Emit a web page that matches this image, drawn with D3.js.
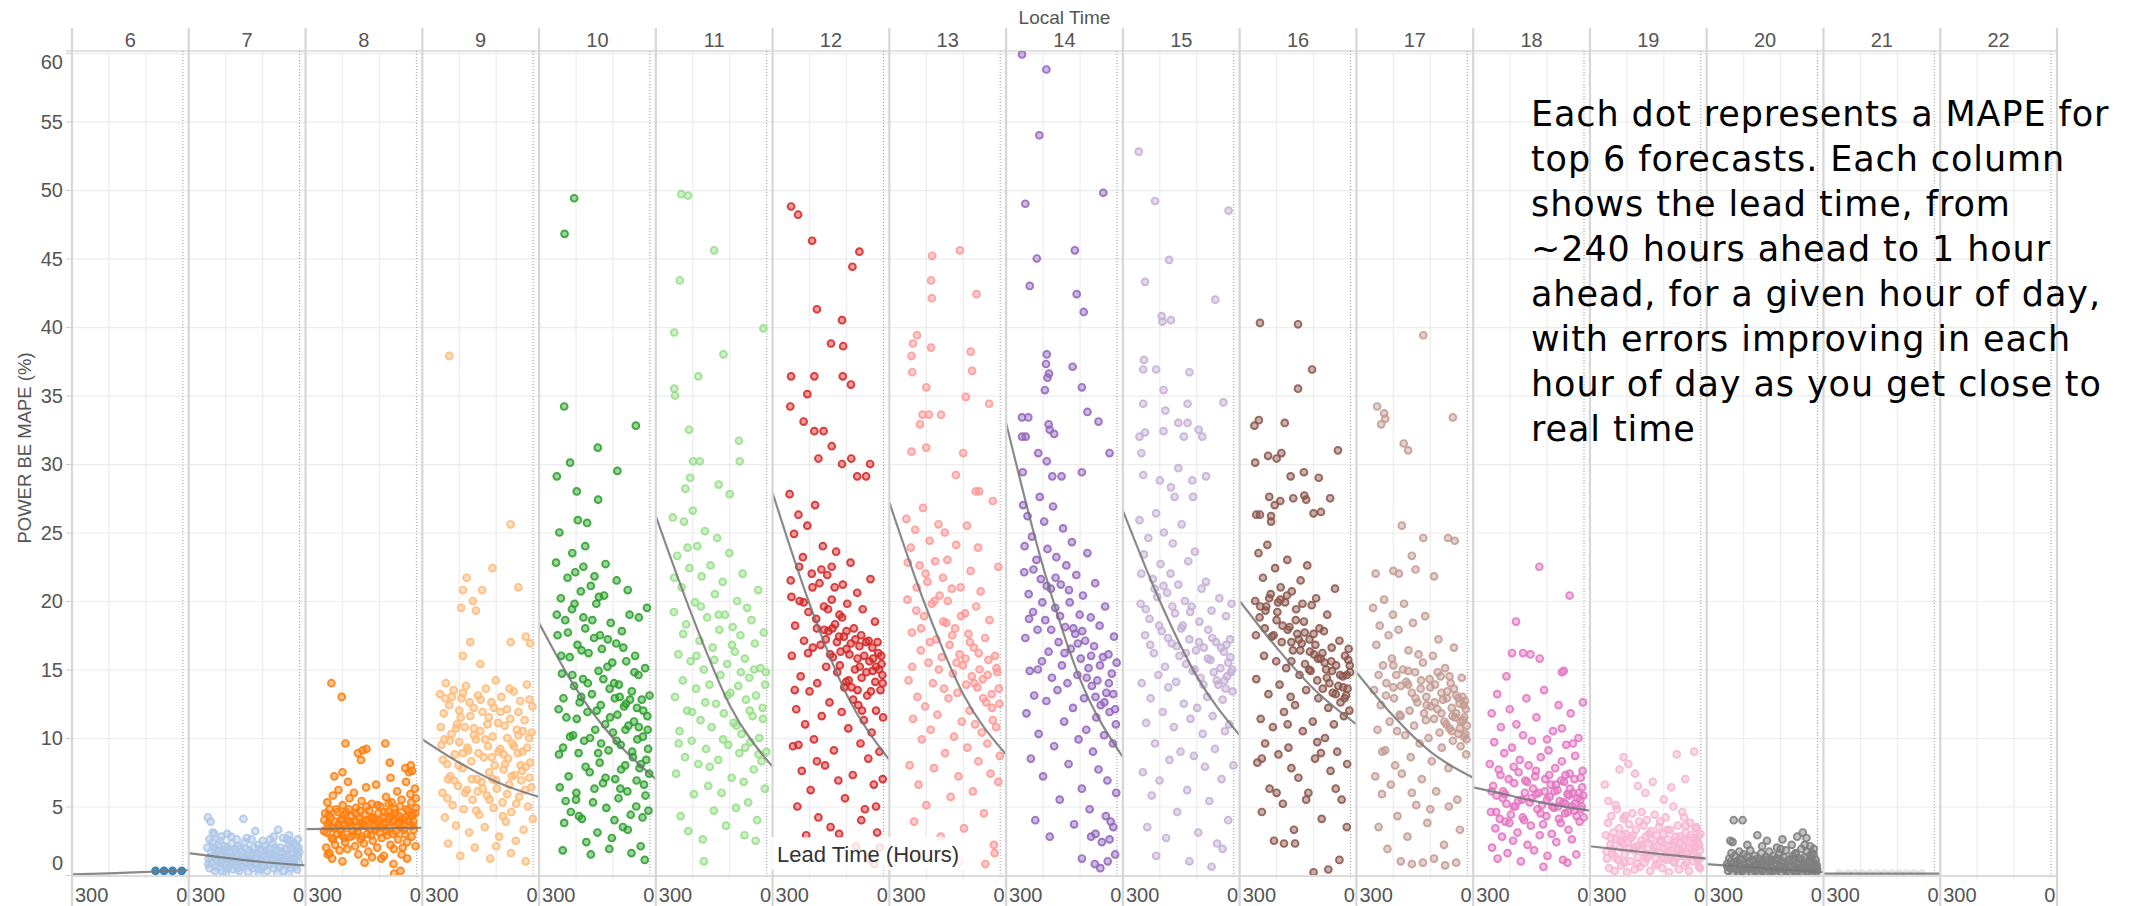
<!DOCTYPE html>
<html>
<head>
<meta charset="utf-8">
<script src="https://cdn.jsdelivr.net/npm/d3@7"></script>
<style>
  body { margin: 0; background: #fff; }
  svg { display: block; font-family: "Liberation Sans", Arial, sans-serif; }
</style>
</head>
<body>
<div id="chart"></div>
<script>
// hour-of-day columns and their Tableau 20 colours
var hours = [6, 7, 8, 9, 10, 11, 12, 13, 14, 15, 16, 17, 18, 19, 20, 21, 22];
var hourColors = ["#1f77b4", "#aec7e8", "#ff7f0e", "#ffbb78", "#2ca02c", "#98df8a", "#d62728", "#ff9896",
                  "#9467bd", "#c5b0d5", "#8c564b", "#c49c94", "#e377c2", "#f7b6d2", "#7f7f7f", "#c7c7c7", "#bcbd22"];
var yTicks = [0, 5, 10, 15, 20, 25, 30, 35, 40, 45, 50, 55, 60];
var xGrid = [200, 100];
var xTickLabels = [300, 0];

// trend line read at lead 300, 200, 100 and the right edge of each pane
var trendLeads = [300, 200, 100, -16];
var trend6 = [0.05, 0.12, 0.22, 0.35];
var trend7 = [1.6, 1.25, 0.95, 0.7];
var trend8 = [3.35, 3.38, 3.41, 3.45];
var trend9 = [9.9, 8.2, 6.8, 5.7];
var trend10 = [18.4, 13.6, 10.0, 7.0];
var trend11 = [26.2, 18.8, 12.4, 7.9];
var trend12 = [27.9, 19.8, 13.2, 8.4];
var trend13 = [27.2, 19.5, 13.2, 8.8];
var trend14 = [33.0, 22.5, 14.3, 8.6];
var trend15 = [26.6, 20.0, 14.5, 10.2];
var trend16 = [20.0, 16.6, 13.6, 11.0];
var trend17 = [14.8, 11.6, 9.0, 7.1];
var trend18 = [6.4, 5.8, 5.2, 4.7];
var trend19 = [2.1, 1.8, 1.5, 1.2];
var trend20 = [0.8, 0.6, 0.4, 0.2];
var trend21 = [0.1, 0.1, 0.1, 0.1];
var trend22 = null;

// [lead time (hours), MAPE %] per hour of day
var mape6 = [[74,0.3],[51,0.3],[28,0.3],[3,0.3]];
var mape7 = [[248,4.2],[241,3.9],[152,4.1],[58,3.3],[28,2.9],[235,3.1],[231,3.0],[196,3.0],[212,2.8],[185,2.8],[120,3.2],[130,2.6],[70,2.8],[35,2.6],[25,2.5],
  [250,2.0],[246,1.2],[244,0.5],[240,1.7],[238,0.9],[236,2.4],[232,1.4],[229,0.3],[226,1.9],[223,1.0],[220,2.2],[217,0.6],[214,1.5],[211,1.1],[208,0.2],[205,1.8],[202,0.8],[199,1.3],[196,2.0],[193,0.5],[190,1.6],[187,1.0],[184,2.3],[181,0.4],[178,1.2],[175,1.9],[172,0.7],[169,1.4],[166,2.1],[163,0.3],[160,1.1],[157,1.7],[154,0.6],[151,1.3],[148,2.4],[145,0.9],[142,1.5],[139,0.2],[136,1.8],[133,1.0],[130,1.4],[127,0.5],[124,2.0],[121,1.2],[118,0.7],[115,1.6],[112,2.2],[109,0.4],[106,1.0],[103,1.8],[100,1.3],[97,0.6],[94,2.1],[91,1.1],[88,0.3],[85,1.5],[82,1.9],[79,0.8],[76,1.2],[73,2.3],[70,0.5],[67,1.4],[64,1.0],[61,1.8],[58,0.6],[55,1.2],[52,2.0],[49,0.9],[46,1.5],[43,0.3],[40,1.1],[37,1.9],[34,0.7],[31,1.3],[28,2.2],[25,0.5],[22,1.0],[19,1.6],[16,0.8],[13,1.2],[10,2.1],[7,0.4],[4,1.4],[2,0.9],[1,1.7],
  [244,2.6],[215,2.5],[170,2.6],[143,2.7],[100,2.5],[80,2.6],[45,2.7],[15,2.3],[5,2.6],[60,0.1],[110,0.1],[200,0.1],[30,0.1],
  [247,0.8],[239,1.3],[233,2.0],[227,0.6],[221,1.7],[216,0.9],[209,1.5],[203,2.1],[198,0.7],[192,1.2],[186,1.8],[180,0.9],[174,1.4],[168,0.5],[162,1.9],[156,1.2],[150,0.8],[144,1.9],[138,1.2],[132,0.7],[126,1.6],[120,0.9],[114,1.3],[108,1.9],[102,0.7],[96,1.4],[90,1.8],[84,0.8],[78,1.5],[72,1.0],[66,2.0],[60,1.3],[54,0.6],[48,1.7],[42,1.2],[36,1.5],[30,0.8],[24,1.9],[18,1.2],[12,0.6],[8,1.5],[3,2.0]];
var mape8 = [[230,14.0],[202,13.0],[192,9.6],[158,8.9],[145,9.1],[135,9.2],[150,8.4],[84,9.6],[72,8.2],[70,7.1],[30,7.8],[20,7.5],[15,8.0],[12,7.6],[222,7.2],[200,7.5],[185,6.8],[62,0.8],[60,0.1],[43,0.3],[95,1.2],[240,1.5],[228,1.2],[200,1.0],[120,1.3],
  [250,3.2],[247,4.5],[244,2.0],[241,5.3],[238,3.8],[235,1.6],[232,4.2],[229,2.7],[226,5.8],[223,3.4],[220,2.2],[217,4.8],[214,3.0],[211,6.2],[208,1.8],[205,4.0],[202,2.9],[199,5.1],[196,3.6],[193,2.4],[190,4.6],[187,1.9],[184,3.9],[181,5.6],[178,2.8],[175,4.3],[172,3.2],[169,6.0],[166,2.1],[163,4.9],[160,3.5],[157,1.5],[154,4.1],[151,2.6],[148,5.4],[145,3.7],[142,2.3],[139,4.4],[136,6.4],[133,3.0],[130,1.7],[127,4.7],[124,3.3],[121,5.2],[118,2.5],[115,4.0],[112,3.6],[109,6.6],[106,2.0],[103,4.5],[100,3.1],[97,5.0],[94,2.7],[91,4.2],[88,1.4],[85,3.8],[82,5.7],[79,2.9],[76,4.6],[73,3.4],[70,2.2],[67,5.3],[64,3.9],[61,1.9],[58,4.8],[55,3.2],[52,6.1],[49,2.6],[46,4.3],[43,3.5],[40,5.5],[37,2.0],[34,4.0],[31,3.0],[28,6.8],[25,2.4],[22,4.7],[19,3.6],[16,5.9],[13,2.8],[10,4.4],[7,3.3],[4,6.3],[2,2.1],[1,4.9],
  [240,3.6],[210,3.7],[180,3.9],[150,3.8],[120,4.1],[90,3.7],[60,4.0],[30,4.2],[8,3.9],[235,4.8],[195,4.4],[165,3.9],[135,4.0],[105,3.9],[75,4.1],[45,3.8],[15,4.3],[140,0.9],[40,1.5],[25,1.2],
  [249,4.0],[243,3.1],[237,4.4],[231,3.5],[225,2.6],[219,3.9],[213,4.6],[207,3.3],[201,4.1],[195,2.7],[189,3.4],[183,4.8],[177,3.7],[171,2.9],[165,4.5],[159,3.2],[153,4.7],[147,2.8],[141,3.6],[135,5.0],[129,3.9],[123,2.9],[117,4.2],[111,3.3],[105,5.1],[99,4.0],[93,3.5],[87,4.6],[81,3.2],[75,5.2],[69,4.3],[63,3.0],[57,4.5],[51,3.7],[45,5.0],[39,4.1],[33,3.3],[27,4.8],[21,3.9],[14,5.3],[9,3.6],[3,4.5],[1,5.6]];
var mape9 = [[227,37.9],[61,25.6],[110,22.4],[180,21.7],[190,20.8],[138,20.8],[163,20.0],[195,19.5],[155,19.3],[170,17.0],[190,16.0],[143,15.4],[61,17.0],[8,16.9],[40,21.0],[20,17.4],
  [252,13.2],[248,9.5],[245,6.0],[242,11.8],[239,4.2],[236,14.0],[233,8.1],[230,2.3],[227,12.4],[224,7.2],[221,10.3],[218,5.1],[215,13.5],[212,8.8],[209,3.6],[206,11.0],[203,6.5],[200,9.7],[197,1.4],[194,12.9],[191,7.8],[188,4.8],[185,10.8],[182,13.8],[179,6.2],[176,9.1],[173,3.1],[170,11.6],[167,8.3],[164,5.5],[161,12.2],[158,2.0],[155,9.9],[152,7.0],[149,13.1],[146,4.4],[143,10.5],[140,6.8],[137,11.9],[134,8.6],[131,3.5],[128,13.6],[125,5.8],[122,9.4],[119,7.5],[116,1.2],[113,12.6],[110,10.1],[107,4.9],[104,8.0],[101,14.2],[98,6.3],[95,11.1],[92,2.8],[89,9.2],[86,13.0],[83,5.3],[80,7.7],[77,10.9],[74,3.9],[71,12.1],[68,8.5],[65,6.6],[62,11.4],[59,4.6],[56,9.6],[53,13.4],[50,7.3],[47,2.5],[44,10.6],[41,8.9],[38,5.7],[35,12.7],[32,6.9],[29,9.0],[26,3.3],[23,11.3],[20,7.9],[17,13.9],[14,5.0],[11,10.0],[8,8.2],[5,6.4],[2,12.3],[1,4.1],
  [240,9.9],[200,12.0],[160,10.2],[120,11.5],[80,8.8],[40,10.2],[10,12.8],[230,7.0],[190,8.9],[150,6.1],[110,7.0],[70,5.9],[30,7.6],[100,2.1],[60,1.6],[20,1.0],
  [250,10.8],[244,8.4],[238,12.9],[232,5.6],[226,9.8],[220,13.0],[214,6.9],[208,10.7],[202,8.0],[196,11.5],[190,13.3],[184,6.0],[178,9.3],[172,12.6],[166,7.0],[160,10.7],[154,4.7],[148,8.9],[142,12.8],[136,6.3],[130,9.9],[124,11.0],[118,5.5],[112,8.6],[106,12.2],[100,6.9],[94,9.0],[88,11.9],[82,4.3],[76,8.1],[70,10.0],[64,13.6],[58,7.2],[52,9.4],[46,5.2],[40,11.9],[34,8.0],[28,10.5],[22,6.2],[16,9.3],[10,7.1],[4,10.4]];
var mape10 = [[205,49.4],[231,46.8],[232,34.2],[38,32.8],[141,31.2],[216,30.1],[252,29.1],[88,29.5],[198,28.0],[140,27.4],[195,25.9],[170,25.7],[175,24.0],
  [254,22.8],[250,17.5],[247,12.1],[244,6.4],[241,20.2],[238,14.7],[235,9.3],[232,3.8],[229,18.6],[226,11.5],[223,21.7],[220,7.2],[217,15.9],[214,4.6],[211,19.4],[208,10.2],[205,13.8],[202,22.1],[199,6.0],[196,16.8],[193,8.9],[190,12.6],[187,20.7],[184,4.1],[181,14.3],[178,9.8],[175,18.0],[172,2.4],[169,11.9],[166,16.2],[163,7.5],[160,21.1],[157,13.2],[154,5.3],[151,17.3],[148,10.6],[145,19.8],[142,3.1],[139,14.9],[136,8.2],[133,12.4],[130,16.5],[127,6.7],[124,20.4],[121,11.0],[118,4.9],[115,15.2],[112,9.1],[109,13.6],[106,18.4],[103,2.7],[100,10.4],[97,14.0],[94,7.0],[91,16.9],[88,11.7],[85,5.6],[82,13.0],[79,9.5],[76,17.8],[73,3.5],[70,12.3],[67,8.0],[64,15.6],[61,6.1],[58,10.9],[55,19.0],[52,4.4],[49,13.4],[46,8.6],[43,11.2],[40,16.0],[37,5.0],[34,9.9],[31,14.6],[28,7.8],[25,2.1],[22,12.8],[19,10.1],[16,6.6],[13,15.1],[10,8.4],[7,11.6],[4,4.7],[1,13.1],
  [245,25.0],[210,23.5],[180,22.5],[150,21.8],[120,22.7],[90,21.5],[60,20.8],[30,18.8],[8,19.5],[236,1.8],[160,1.5],[110,1.9],[50,1.6],[14,1.1],[185,16.4],[135,17.5],[95,12.9],[65,12.5],[35,12.2],[5,9.2],[200,5.5],[140,8.9],[80,6.3],[20,4.2],
  [252,19.0],[246,8.8],[240,16.0],[234,12.9],[228,5.4],[222,17.7],[216,10.1],[210,14.6],[204,19.8],[198,11.4],[192,4.3],[186,13.0],[180,18.8],[174,7.9],[168,14.0],[162,10.0],[156,18.6],[150,6.3],[144,12.0],[138,20.3],[132,9.6],[126,14.3],[120,7.1],[114,17.2],[108,11.5],[102,15.5],[96,4.0],[90,9.8],[84,13.9],[78,7.7],[72,16.6],[66,10.6],[60,3.3],[54,12.8],[48,9.0],[42,14.8],[36,6.9],[30,10.8],[24,8.1],[18,12.0],[12,5.8],[6,10.6],[2,7.4]];
var mape11 = [[231,49.7],[213,49.6],[142,45.6],[235,43.4],[250,39.6],[9,39.9],[117,38.0],[185,36.4],[250,35.5],[248,35.0],[210,32.5],[75,31.7],[199,30.2],[181,30.2],[73,30.2],[207,29.0],
  [254,26.1],[251,19.2],[248,13.0],[245,7.4],[242,23.3],[239,16.1],[236,10.5],[233,4.3],[230,21.0],[227,14.2],[224,25.8],[221,8.6],[218,18.3],[215,12.0],[212,3.2],[209,22.4],[206,15.6],[203,9.8],[200,26.6],[197,5.9],[194,19.9],[191,13.6],[188,24.0],[185,8.1],[182,17.1],[179,11.3],[176,21.8],[173,2.6],[170,15.0],[167,25.1],[164,9.2],[161,18.8],[158,6.5],[155,13.9],[152,22.6],[149,10.8],[146,16.6],[143,4.7],[140,20.5],[137,12.5],[134,24.6],[131,8.4],[128,17.9],[125,14.6],[122,6.0],[119,21.4],[116,11.8],[113,19.0],[110,3.6],[107,15.4],[104,9.5],[101,23.5],[98,13.3],[95,7.1],[92,18.1],[89,11.1],[86,16.3],[83,4.9],[80,20.0],[77,13.8],[74,8.9],[71,17.5],[68,10.3],[65,22.0],[62,6.8],[59,15.8],[56,12.8],[53,19.5],[50,5.3],[47,14.4],[44,9.7],[41,18.6],[38,11.6],[35,7.7],[32,16.9],[29,13.1],[26,4.0],[23,20.8],[20,10.0],[17,15.1],[14,8.3],[11,12.2],[8,17.7],[5,6.3],[2,14.8],[1,9.0],
  [170,1.0],[60,2.9],[30,2.5],[100,27.8],[130,28.5],[220,28.2],
  [250,21.7],[238,9.6],[226,17.6],[214,23.9],[202,11.9],[190,16.0],[178,19.6],[166,12.6],[154,7.9],[142,15.7],[130,19.0],[118,9.9],[106,13.1],[94,16.8],[82,10.9],[70,14.8],[58,9.3],[46,12.0],[34,15.0],[22,8.8],[10,11.4],[4,13.9]];
var mape12 = [[250,48.8],[231,48.2],[193,46.3],[65,45.5],[84,44.4],[180,41.3],[112,40.5],[142,38.8],[109,38.6],[250,36.4],[187,36.4],[110,36.4],[88,35.8],[206,35.1],[252,34.2],[216,33.1],[187,32.4],[162,32.4],[140,31.3],[176,30.4],[112,30.0],[87,30.4],[36,30.0],[47,29.1],[71,29.1],
  [254,27.8],[251,21.5],[248,16.0],[245,9.4],[242,24.9],[239,18.2],[236,12.1],[233,5.0],[230,26.3],[227,20.0],[224,14.5],[221,7.6],[218,23.2],[215,17.1],[212,11.0],[209,2.9],[206,25.5],[203,19.2],[200,13.4],[197,6.2],[194,22.0],[191,16.6],[188,9.9],[185,27.0],[182,18.7],[179,14.0],[176,4.2],[173,21.3],[170,16.8],[167,11.6],[164,24.0],[161,19.6],[158,8.0],[155,15.2],[152,21.9],[149,17.8],[146,12.6],[143,3.5],[140,20.1],[137,15.9],[134,9.1],[131,18.3],[128,23.6],[125,14.8],[122,6.9],[119,19.0],[116,16.3],[113,11.9],[110,21.2],[107,17.4],[104,5.6],[101,14.1],[98,19.8],[95,10.7],[92,16.1],[89,22.8],[86,13.7],[83,7.3],[80,18.0],[77,15.0],[74,2.1],[71,20.6],[68,12.4],[65,16.7],[62,9.6],[59,14.4],[56,19.4],[53,11.3],[50,4.8],[47,17.0],[44,13.1],[41,8.5],[38,15.6],[35,21.6],[32,10.4],[29,14.9],[26,6.6],[23,18.5],[20,12.0],[17,3.1],[14,16.2],[11,9.0],[8,13.5],[5,15.4],[2,7.0],[1,11.5],
  [40,1.2],[25,0.8],[10,2.0],[120,17.4],[100,16.5],[70,15.8],[60,17.5],[30,16.6],[20,15.2],[3,14.6],[160,17.9],[140,22.5],
  [249,20.3],[240,13.5],[228,22.5],[216,19.9],[204,16.2],[192,21.0],[180,18.0],[168,22.3],[156,17.2],[150,19.4],[144,16.1],[138,18.0],[132,21.0],[126,17.0],[118,15.3],[112,18.8],[106,13.7],[100,17.8],[94,14.2],[88,16.9],[82,12.8],[76,17.2],[70,13.5],[64,15.2],[58,12.0],[52,16.0],[46,14.8],[40,17.1],[34,13.4],[28,15.8],[22,14.1],[16,17.0],[12,15.0],[6,16.0],[2,14.0],[20,5.0],[60,4.0],[120,3.0],[180,8.3],[230,9.5]];
var mape13 = [[109,45.6],[184,45.2],[187,43.4],[64,42.4],[185,42.1],[225,39.4],[236,38.8],[187,38.5],[80,38.2],[240,37.9],[76,36.8],[238,36.7],[200,35.6],[93,34.9],[30,34.4],[193,33.6],[210,33.6],[160,33.6],[217,32.9],[240,30.9],[200,31.2],[100,30.8],[120,29.2],[57,28.0],[66,28.0],[20,27.3],
  [254,26.0],[251,20.1],[248,14.2],[245,8.0],[242,23.9],[239,17.7],[236,11.4],[233,3.9],[230,25.2],[227,19.3],[224,13.0],[221,6.6],[218,22.6],[215,16.4],[212,9.9],[209,26.8],[206,18.9],[203,12.3],[200,5.1],[197,21.4],[194,15.5],[191,24.4],[188,10.6],[185,19.8],[182,14.0],[179,7.8],[176,22.9],[173,17.2],[170,11.7],[167,25.6],[164,20.4],[161,2.8],[158,15.9],[155,21.7],[152,13.6],[149,8.9],[146,18.4],[143,23.0],[140,12.9],[137,16.8],[134,5.7],[131,20.9],[128,14.7],[125,10.1],[122,18.0],[119,24.1],[116,13.3],[113,7.2],[110,16.1],[107,21.0],[104,11.2],[101,15.3],[98,3.4],[95,19.1],[92,13.9],[89,9.3],[86,17.6],[83,12.0],[80,22.2],[77,14.5],[74,6.1],[71,16.6],[68,11.0],[65,19.6],[62,13.7],[59,8.3],[56,15.0],[53,20.7],[50,10.4],[47,14.3],[44,4.5],[41,17.3],[38,12.6],[35,9.6],[32,15.7],[29,18.6],[26,7.4],[23,13.2],[20,11.3],[17,2.2],[14,16.0],[11,10.8],[8,14.8],[5,6.8],[2,12.5],[1,8.7],
  [220,1.5],[110,1.0],[40,0.8],[15,1.6],[90,25.5],[150,25.0],[60,23.9],[5,22.5],
  [250,22.8],[238,15.2],[226,21.0],[214,18.0],[202,22.0],[190,17.0],[178,20.0],[166,15.0],[154,18.5],[142,20.0],[130,17.5],[118,15.5],[106,18.9],[94,15.8],[82,17.0],[70,14.0],[58,16.2],[46,12.9],[34,14.6],[22,12.2],[10,15.1],[4,13.6]];
var mape14 = [[257,59.9],[191,58.8],[210,54.0],[248,49.0],[37,49.8],[217,45.0],[236,43.0],[114,45.6],[109,42.4],[90,41.1],[190,38.0],[192,37.3],[188,36.3],[184,36.6],[120,37.1],[195,35.4],[95,35.6],[80,33.8],[50,33.1],[20,30.8],[257,33.4],[240,33.4],[257,32.0],[247,32.0],[185,32.9],[182,32.5],[170,32.2],[213,30.8],[190,30.2],[255,29.4],[150,29.1],[175,29.1],[95,29.4],
  [254,27.0],[251,22.1],[248,17.3],[245,11.8],[242,26.2],[239,20.5],[236,14.9],[233,8.5],[230,24.7],[227,19.2],[224,13.1],[221,4.0],[218,23.0],[215,17.9],[212,10.3],[209,27.6],[206,21.6],[203,15.6],[200,7.2],[197,25.8],[194,18.6],[191,12.7],[188,23.8],[185,16.3],[182,2.8],[179,20.9],[176,14.4],[173,26.9],[170,9.4],[167,19.5],[164,23.2],[161,13.5],[158,17.0],[155,5.5],[152,21.2],[149,15.3],[146,25.3],[143,11.2],[140,18.1],[137,22.6],[134,14.0],[131,8.1],[128,19.9],[125,16.5],[122,24.3],[119,12.2],[116,3.7],[113,17.6],[110,21.9],[107,14.6],[104,9.9],[101,19.0],[98,15.8],[95,6.3],[92,20.4],[89,12.9],[86,17.1],[83,10.6],[80,23.5],[77,15.1],[74,4.8],[71,18.8],[68,13.8],[65,9.0],[62,16.7],[59,21.3],[56,11.5],[53,14.2],[50,7.7],[47,18.2],[44,12.4],[41,2.4],[38,15.9],[35,10.2],[32,19.6],[29,13.3],[26,6.9],[23,16.1],[20,11.9],[17,3.9],[14,14.7],[11,9.6],[8,17.4],[5,12.1],[2,6.0],[1,15.5],
  [95,1.2],[70,2.8],[60,0.8],[45,0.5],[30,4.3],[20,2.6],[10,3.5],[5,1.5],[58,3.0],[25,1.0],
  [250,24.0],[238,18.7],[226,22.3],[214,15.0],[202,19.9],[190,21.1],[178,17.9],[166,21.7],[154,18.9],[142,16.2],[130,20.8],[118,18.0],[106,16.9],[94,17.8],[82,14.4],[70,16.0],[58,13.0],[46,15.3],[34,12.6],[22,14.0],[10,13.2],[3,11.0]];
var mape15 = [[257,52.8],[213,49.2],[14,48.5],[175,44.9],[240,43.3],[50,42.0],[195,40.8],[193,40.4],[170,40.5],[243,37.6],[245,36.9],[210,36.9],[120,36.7],[190,35.4],[245,34.4],[185,33.9],[125,34.4],[28,34.5],[190,32.4],[150,33.0],[125,33.0],[255,32.0],[240,32.3],[95,32.5],[135,32.0],[85,32.0],[250,30.8],[245,29.2],[200,28.8],[150,29.7],[112,28.8],[75,29.1],[170,28.3],[160,27.6],[110,27.6],
  [255,25.9],[252,19.8],[249,14.0],[246,7.5],[243,23.4],[240,17.5],[237,11.1],[234,3.5],[231,24.6],[228,18.7],[225,12.9],[222,5.8],[219,21.6],[216,16.2],[213,9.6],[210,26.4],[207,20.3],[204,14.6],[201,6.9],[198,22.7],[195,17.8],[192,11.9],[189,25.0],[186,15.2],[183,2.7],[180,20.6],[177,13.7],[174,8.4],[171,22.0],[168,16.9],[165,24.2],[162,10.8],[159,19.1],[156,14.1],[153,4.6],[150,21.2],[147,16.0],[144,9.0],[141,25.6],[138,18.2],[135,12.5],[132,20.0],[129,15.4],[126,6.2],[123,22.9],[120,17.2],[117,11.4],[114,19.6],[111,14.9],[108,8.7],[105,23.6],[102,16.4],[99,12.2],[96,3.1],[93,18.5],[90,14.4],[87,20.9],[84,10.3],[81,16.6],[78,7.9],[75,21.4],[72,13.0],[69,17.9],[66,5.4],[63,15.7],[60,19.3],[57,11.6],[54,14.8],[51,9.2],[48,17.0],[45,2.3],[42,13.9],[39,20.2],[36,15.1],[33,7.0],[30,12.8],[27,16.3],[24,10.5],[21,18.9],[18,14.5],[15,4.0],[12,11.0],[9,15.9],[6,19.8],[3,13.4],[1,8.0],
  [210,1.4],[120,1.0],[60,0.6],[30,1.9],[15,15.5],[8,14.8],[20,16.8],[25,14.2],
  [250,22.0],[238,19.4],[226,16.8],[214,20.9],[202,18.2],[190,21.1],[178,17.3],[166,19.6],[154,16.7],[142,18.0],[130,16.2],[118,19.2],[106,15.0],[94,17.0],[82,13.9],[70,15.8],[58,17.3],[46,14.2],[34,16.6],[22,13.6],[10,17.2],[4,15.0]];
var mape16 = [[245,40.3],[142,40.2],[104,36.9],[142,35.5],[260,32.8],[248,33.2],[178,33.0],[34,31.0],[258,30.1],[223,30.6],[200,30.4],[187,30.8],[162,29.1],[126,29.4],[86,29.0],[125,27.7],[55,27.5],[220,27.6],[190,27.3],[205,27.0],[155,27.5],[120,27.4],[255,26.3],[245,26.3],[215,26.2],[100,26.4],[80,26.5],[215,25.8],
  [258,20.0],[255,14.3],[252,8.2],[249,23.5],[246,18.8],[243,11.4],[240,4.6],[237,21.7],[234,16.0],[231,9.6],[228,19.6],[225,24.1],[222,13.2],[219,6.3],[216,20.5],[213,17.4],[210,10.8],[207,2.5],[204,22.4],[201,15.6],[198,19.2],[195,8.8],[192,13.9],[189,21.0],[186,17.0],[183,5.2],[180,11.9],[177,19.9],[174,15.1],[171,23.0],[168,9.3],[165,18.1],[162,13.0],[159,20.7],[156,16.4],[153,3.3],[150,12.4],[147,19.4],[144,17.6],[141,7.1],[138,14.6],[135,21.5],[132,16.9],[129,10.5],[126,18.5],[123,15.4],[120,13.5],[117,22.6],[114,6.0],[111,17.2],[108,14.9],[105,19.7],[102,11.2],[99,16.1],[96,8.5],[93,20.2],[90,14.2],[87,12.9],[84,18.0],[81,15.8],[78,4.1],[75,13.6],[72,17.8],[69,10.0],[66,15.0],[63,19.0],[60,12.2],[57,14.0],[54,7.6],[51,16.6],[48,13.3],[45,11.0],[42,20.9],[39,15.3],[36,9.0],[33,13.8],[30,17.1],[27,12.6],[24,5.5],[21,14.5],[18,11.6],[15,16.0],[12,13.1],[9,8.1],[6,15.7],[3,12.0],[1,14.8],
  [230,19.3],[200,18.6],[170,17.9],[160,17.0],[140,17.2],[110,16.3],[95,16.8],[70,15.5],[50,14.9],[20,13.7],[10,14.6],[5,16.5],[180,2.3],[150,2.3],[100,0.2],[60,0.4],[30,1.1],[190,20.1],[130,19.8],
  [256,17.5],[244,19.6],[232,18.0],[220,20.2],[208,17.5],[196,19.9],[184,18.2],[172,20.4],[160,15.6],[148,18.6],[136,16.4],[124,17.7],[112,15.0],[100,17.6],[88,15.8],[76,16.2],[64,14.4],[52,15.6],[40,13.2],[28,14.6],[16,12.9],[8,13.6],[2,15.3],[240,8.5],[200,6.0],[160,7.8],[120,5.5],[80,8.9],[40,6.3],[10,3.5],[170,11.0],[90,9.7]];
var mape17 = [[119,39.4],[244,34.2],[225,33.7],[222,33.3],[233,32.9],[39,33.4],[172,31.5],[160,31.0],[177,25.5],[119,24.6],[52,24.6],[34,24.4],[150,23.3],[248,22.0],[200,22.2],[185,22.0],[140,22.3],[90,21.8],
  [255,19.5],[252,13.5],[249,7.2],[246,16.8],[243,10.6],[240,3.5],[237,18.2],[234,12.4],[231,5.9],[228,15.3],[225,20.1],[222,9.1],[219,14.0],[216,1.9],[213,17.5],[210,11.2],[207,6.6],[204,15.8],[201,19.0],[198,12.9],[195,8.0],[192,14.6],[189,4.3],[186,17.9],[183,11.7],[180,13.8],[177,7.4],[174,15.0],[171,19.8],[168,10.2],[165,14.1],[162,2.8],[159,16.4],[156,12.0],[153,8.6],[150,13.3],[147,18.4],[144,10.9],[141,14.8],[138,5.1],[135,12.6],[132,16.1],[129,9.6],[126,13.6],[123,7.0],[120,15.5],[117,11.8],[114,18.9],[111,13.0],[108,3.8],[105,10.0],[102,14.3],[99,12.3],[96,8.3],[93,16.0],[90,11.4],[87,13.9],[84,6.1],[81,12.1],[78,17.2],[75,10.4],[72,14.5],[69,9.3],[66,12.8],[63,2.2],[60,15.1],[57,11.0],[54,13.4],[51,7.8],[48,10.7],[45,14.0],[42,12.2],[39,9.8],[36,16.6],[33,11.5],[30,13.1],[27,5.5],[24,10.3],[21,12.5],[18,9.4],[15,14.4],[12,11.3],[9,10.1],[6,12.7],[3,8.8],[1,10.9],
  [180,1.0],[150,0.8],[120,0.9],[90,1.2],[60,0.7],[30,0.9],[200,13.7],[160,13.9],[110,12.4],[70,11.8],[40,11.6],[20,10.7],[10,12.4],[5,10.3],
  [240,14.6],[220,13.1],[200,15.3],[180,11.6],[160,14.9],[140,12.9],[125,14.2],[112,11.3],[100,13.7],[88,12.6],[80,14.8],[70,13.3],[62,11.2],[55,12.9],[48,14.5],[42,10.5],[36,13.6],[30,11.8],[24,12.9],[18,11.2],[13,13.0],[8,11.5],[4,12.1],[2,9.9],[150,6.0],[100,4.8],[50,5.0],[20,3.3],[230,9.0],[190,10.5]];
var mape18 = [[121,22.5],[39,20.4],[184,18.5],[195,16.2],[165,16.2],[145,16.1],[120,15.8],[60,14.8],[55,14.9],[210,14.5],[235,13.2],[250,11.8],
  [255,8.1],[252,4.6],[249,2.0],[246,6.5],[243,9.7],[240,3.4],[237,5.8],[234,1.2],[231,7.7],[228,4.1],[225,10.8],[222,2.8],[219,6.1],[216,8.9],[213,3.9],[210,5.2],[207,1.6],[204,7.0],[201,12.1],[198,4.4],[195,9.3],[192,2.5],[189,6.7],[186,5.0],[183,11.0],[180,3.1],[177,7.5],[174,8.4],[171,1.0],[168,5.5],[165,10.2],[162,4.0],[159,6.9],[156,12.9],[153,2.2],[150,8.0],[147,5.3],[144,3.6],[141,9.8],[138,6.3],[135,1.8],[132,7.2],[129,11.5],[126,4.8],[123,6.0],[120,2.9],[117,8.6],[114,5.1],[111,3.7],[108,13.5],[105,7.0],[102,4.3],[99,1.4],[96,9.1],[93,5.7],[90,6.6],[87,3.0],[84,10.5],[81,4.9],[78,7.8],[75,2.4],[72,6.2],[69,12.4],[66,5.4],[63,3.8],[60,8.3],[57,1.1],[54,6.8],[51,4.5],[48,9.5],[45,5.9],[42,3.3],[39,7.4],[36,11.8],[33,2.6],[30,6.0],[27,4.7],[24,8.7],[21,1.5],[18,5.6],[15,10.0],[12,3.9],[9,7.1],[6,5.0],[3,12.6],[1,4.2],
  [220,5.6],[190,5.0],[160,6.0],[130,5.9],[100,5.5],[80,6.1],[70,5.0],[50,5.2],[40,5.8],[25,5.2],[10,5.5],[5,6.4],[110,0.6],[45,0.9],
  [250,6.1],[238,4.6],[226,7.3],[214,5.9],[202,3.8],[190,7.9],[178,5.4],[166,4.2],[154,6.8],[142,5.6],[130,7.6],[118,4.5],[106,6.1],[94,7.3],[86,5.0],[76,6.6],[68,4.1],[62,6.9],[56,5.3],[50,7.3],[44,4.6],[38,6.3],[32,5.0],[26,7.0],[20,4.3],[14,6.0],[8,4.8],[4,7.6],[2,5.8],[100,9.9],[60,10.7],[30,9.6]];
var mape19 = [[209,8.6],[196,8.1],[220,7.7],[65,8.8],[18,9.0],[260,6.6],[178,7.4],[130,6.8],[42,7.0],[170,6.5],[150,6.0],[80,6.4],[100,5.5],[250,5.4],
  [257,2.9],[254,1.2],[251,3.8],[248,0.5],[245,2.2],[242,4.3],[239,1.6],[236,3.1],[233,0.3],[230,2.6],[227,4.8],[224,1.1],[221,3.4],[218,2.0],[215,0.7],[212,2.9],[209,4.1],[206,1.5],[203,3.0],[200,0.2],[197,2.4],[194,3.7],[191,1.0],[188,2.7],[185,4.5],[182,1.8],[179,0.4],[176,3.3],[173,2.1],[170,1.3],[167,3.9],[164,0.6],[161,2.5],[158,1.9],[155,3.6],[152,0.9],[149,2.8],[146,4.0],[143,1.4],[140,2.3],[137,0.3],[134,3.2],[131,1.7],[128,2.0],[125,4.4],[122,1.2],[119,2.9],[116,0.8],[113,3.5],[110,1.6],[107,2.4],[104,0.5],[101,3.0],[98,1.9],[95,4.2],[92,1.1],[89,2.6],[86,0.2],[83,3.3],[80,1.5],[77,2.2],[74,5.0],[71,0.9],[68,2.8],[65,1.8],[62,3.6],[59,0.4],[56,2.3],[53,1.4],[50,4.6],[47,2.0],[44,0.7],[41,3.1],[38,1.6],[35,2.5],[32,0.3],[29,3.8],[26,1.9],[23,2.7],[20,1.0],[17,2.1],[14,3.4],[11,1.3],[8,2.4],[5,0.6],[2,1.8],[1,3.0],
  [240,1.9],[210,2.3],[180,2.0],[150,1.6],[120,2.1],[90,1.7],[60,1.9],[30,1.4],[15,2.0],[230,5.1],[205,4.3],[160,4.6],[110,3.9],[45,4.2],[12,3.5],[6,2.8],[3,1.2],
  [255,1.7],[243,2.7],[231,1.3],[219,2.5],[207,0.9],[195,1.9],[183,2.9],[171,0.8],[159,2.2],[147,1.2],[135,2.6],[123,0.7],[111,2.5],[99,1.2],[87,2.1],[75,1.0],[69,2.4],[63,1.3],[57,2.8],[51,1.7],[45,2.6],[39,0.9],[33,2.0],[27,2.9],[21,1.5],[15,2.6],[9,1.1],[4,2.2],[2,0.5],[140,3.0],[90,3.3],[40,3.6]];
var mape20 = [[227,4.0],[203,4.0],[236,2.5],[230,2.4],[163,2.9],[137,2.5],[40,3.1],[55,2.8],[30,2.7],[20,2.1],[70,2.2],[110,2.0],[190,2.2],[150,2.1],[95,2.6],[10,1.9],
  [245,0.8],[242,0.3],[239,1.2],[236,0.5],[233,1.6],[230,0.1],[227,0.9],[224,1.4],[221,0.4],[218,1.0],[215,0.2],[212,1.7],[209,0.6],[206,1.1],[203,0.3],[200,1.5],[197,0.7],[194,0.1],[191,1.3],[188,0.5],[185,0.9],[182,1.8],[179,0.2],[176,1.1],[173,0.6],[170,1.4],[167,0.3],[164,0.8],[161,1.2],[158,0.1],[155,0.9],[152,1.6],[149,0.4],[146,1.0],[143,0.2],[140,1.3],[137,0.6],[134,0.9],[131,1.7],[128,0.3],[125,1.1],[122,0.5],[119,1.4],[116,0.1],[113,0.8],[110,1.2],[107,0.4],[104,1.5],[101,0.7],[98,0.2],[95,1.0],[92,1.3],[89,0.5],[86,1.8],[83,0.3],[80,0.9],[77,1.1],[74,0.2],[71,0.7],[68,1.4],[65,0.4],[62,1.0],[59,1.6],[56,0.3],[53,0.8],[50,1.2],[47,0.5],[44,1.9],[41,0.2],[38,0.9],[35,1.3],[32,0.6],[29,1.7],[26,0.3],[23,1.0],[20,1.4],[17,0.5],[14,0.8],[11,1.5],[8,0.3],[5,1.1],[2,0.7],[1,0.4],
  [210,0.4],[180,0.5],[150,0.3],[120,0.3],[90,0.4],[60,0.2],[40,0.4],[25,0.5],[15,0.2],[6,0.6],[3,0.2],
  [244,0.6],[234,1.0],[222,0.7],[210,1.2],[198,0.5],[186,1.0],[174,0.4],[162,1.0],[150,0.7],[138,1.1],[126,0.7],[114,1.1],[102,0.5],[90,0.9],[78,0.6],[66,1.2],[54,0.5],[42,1.1],[30,0.9],[18,1.1],[9,0.9],[4,0.5],[100,1.9],[60,1.5],[35,2.2],[15,1.6]];
var mape21 = [[257,0.1],[235,0.1],[215,0.1],[195,0.1],[175,0.1],[155,0.1],[135,0.1],[115,0.1],[95,0.1],[75,0.1],[55,0.1],[35,0.1]];
var mape22 = [];

var mapeByHour = [mape6, mape7, mape8, mape9, mape10, mape11, mape12, mape13, mape14, mape15, mape16, mape17, mape18, mape19, mape20, mape21, mape22];
var trendByHour = [trend6, trend7, trend8, trend9, trend10, trend11, trend12, trend13, trend14, trend15, trend16, trend17, trend18, trend19, trend20, trend21, trend22];

var noteLines = [
    "Each dot represents a MAPE for",
    "top 6 forecasts. Each column",
    "shows the lead time, from",
    "~240 hours ahead to 1 hour",
    "ahead, for a given hour of day,",
    "with errors improving in each",
    "hour of day as you get close to",
    "real time"
];

(function() {
    var W = 2143, H = 906;
    var plotLeft = 72, plotRight = 2057, plotTop = 51, plotBottom = 875;

    var svg = d3.select("#chart").append("svg")
        .attr("width", W)
        .attr("height", H);

    svg.append("rect").attr("width", W).attr("height", H).attr("fill", "#fff");

    var band = d3.scaleBand()
        .domain(hours)
        .range([plotLeft, plotRight])
        .padding(0);
    var pw = band.bandwidth();

    // lead time runs from 300 on the left down to 0 near the right edge
    var x = d3.scaleLinear().domain([300, -16]).range([0, pw]);
    var y = d3.scaleLinear().domain([0, 60.15]).range([plotBottom, plotTop]);

    var defs = svg.append("defs");

    // horizontal gridlines
    svg.append("g")
        .selectAll("line")
        .data(yTicks.filter(function(d) { return d > 0; }))
        .enter().append("line")
        .attr("x1", plotLeft).attr("x2", plotRight)
        .attr("y1", function(d) { return y(d) + 0.5; })
        .attr("y2", function(d) { return y(d) + 0.5; })
        .attr("stroke", "#ececec")
        .attr("stroke-width", 1.2);

    // y ticks and labels
    var yAxis = svg.append("g");
    yAxis.selectAll("line")
        .data(yTicks)
        .enter().append("line")
        .attr("x1", 66).attr("x2", plotLeft)
        .attr("y1", function(d) { return y(d) + 0.5; })
        .attr("y2", function(d) { return y(d) + 0.5; })
        .attr("stroke", "#cfcfcf");
    yAxis.selectAll("text")
        .data(yTicks)
        .enter().append("text")
        .attr("x", 63)
        .attr("y", function(d) { return Math.max(62, Math.min(863, y(d))); })
        .attr("dy", "0.36em")
        .attr("text-anchor", "end")
        .attr("font-size", 20)
        .attr("fill", "#555")
        .text(function(d) { return d; });

    svg.append("text")
        .attr("transform", "translate(31,448) rotate(-90)")
        .attr("text-anchor", "middle")
        .attr("font-size", 18.5)
        .attr("fill", "#555")
        .text("POWER BE MAPE (%)");

    // header
    svg.append("text")
        .attr("x", (plotLeft + plotRight) / 2)
        .attr("y", 24)
        .attr("text-anchor", "middle")
        .attr("font-size", 19)
        .attr("fill", "#555")
        .text("Local Time");

    svg.append("line")
        .attr("x1", 66).attr("x2", plotRight)
        .attr("y1", plotTop).attr("y2", plotTop)
        .attr("stroke", "#d9d9d9")
        .attr("stroke-width", 1.5);

    var panes = svg.selectAll("g.pane")
        .data(hours)
        .enter().append("g")
        .attr("class", "pane")
        .attr("transform", function(d) { return "translate(" + band(d) + ",0)"; });

    panes.append("text")
        .attr("x", pw / 2)
        .attr("y", 47)
        .attr("text-anchor", "middle")
        .attr("font-size", 20)
        .attr("fill", "#555")
        .text(function(d) { return d; });

    // vertical gridlines at 200 and 100
    panes.selectAll("line.vgrid")
        .data(xGrid)
        .enter().append("line")
        .attr("class", "vgrid")
        .attr("x1", function(d) { return x(d); })
        .attr("x2", function(d) { return x(d); })
        .attr("y1", plotTop).attr("y2", plotBottom + 4)
        .attr("stroke", "#ececec")
        .attr("stroke-width", 1.2);

    // dotted zero-lead line
    panes.append("line")
        .attr("x1", x(0)).attr("x2", x(0))
        .attr("y1", plotTop).attr("y2", plotBottom + 4)
        .attr("stroke", "#9a9a9a")
        .attr("stroke-width", 1)
        .attr("stroke-dasharray", "1,2");

    // x axis baseline and labels
    panes.append("line")
        .attr("x1", 0).attr("x2", pw)
        .attr("y1", plotBottom + 1).attr("y2", plotBottom + 1)
        .attr("stroke", "#d0d0d0")
        .attr("stroke-width", 1.5);

    panes.selectAll("text.xlab")
        .data(xTickLabels)
        .enter().append("text")
        .attr("class", "xlab")
        .attr("x", function(d) { return d === 300 ? 3 : pw - 1.5; })
        .attr("y", 902)
        .attr("text-anchor", function(d) { return d === 300 ? "start" : "end"; })
        .attr("font-size", 20)
        .attr("fill", "#555")
        .text(function(d) { return d; });

    panes.each(function(h) {
        defs.append("clipPath")
            .attr("id", "clip" + h)
            .append("rect")
            .attr("x", 0).attr("y", plotTop)
            .attr("width", pw).attr("height", plotBottom - plotTop);
    });

    var dotLayer = panes.append("g")
        .attr("clip-path", function(d) { return "url(#clip" + d + ")"; });

    dotLayer.each(function(h, i) {
        var col = hourColors[i];
        d3.select(this).selectAll("circle")
            .data(mapeByHour[i])
            .enter().append("circle")
            .attr("cx", function(d) { return x(d[0]); })
            .attr("cy", function(d) { return y(d[1]); })
            .attr("r", 3.4)
            .attr("fill", col)
            .attr("fill-opacity", h === 6 ? 0.9 : 0.5)
            .attr("stroke", col)
            .attr("stroke-width", 1.9)
            .attr("opacity", h === 21 ? 0.5 : 0.9);
    });

    var trendLine = d3.line()
        .x(function(d) { return x(d[0]); })
        .y(function(d) { return y(d[1]); })
        .curve(d3.curveMonotoneX);

    dotLayer.each(function(h, i) {
        var t = trendByHour[i];
        if (!t) { return; }
        d3.select(this).append("path")
            .attr("d", trendLine(trendLeads.map(function(l, j) { return [l, t[j]]; })))
            .attr("fill", "none")
            .attr("stroke", "#747474")
            .attr("stroke-opacity", 0.85)
            .attr("stroke-width", 2.2);
    });

    // pane separators
    svg.append("g")
        .selectAll("line")
        .data(hours.concat(["end"]))
        .enter().append("line")
        .attr("x1", function(d) { return d === "end" ? plotRight : band(d); })
        .attr("x2", function(d) { return d === "end" ? plotRight : band(d); })
        .attr("y1", 28).attr("y2", H)
        .attr("stroke", "#d6d6d6")
        .attr("stroke-width", 2.2);

    // x axis title box
    svg.append("rect")
        .attr("x", 771).attr("y", 837)
        .attr("width", 196).attr("height", 33)
        .attr("fill", "#fff")
        .attr("fill-opacity", 0.82);
    svg.append("text")
        .attr("x", 777)
        .attr("y", 862)
        .attr("font-size", 22)
        .attr("fill", "#333")
        .text("Lead Time (Hours)");

    // annotation
    svg.append("g")
        .selectAll("text")
        .data(noteLines)
        .enter().append("text")
        .attr("x", 1531)
        .attr("y", function(d, i) { return 125.7 + i * 45; })
        .attr("font-family", "'DejaVu Sans', Verdana, sans-serif")
        .attr("font-size", 35)
        .attr("letter-spacing", 0.9)
        .attr("fill", "#000")
        .text(function(d) { return d; });
})();
</script>
</body>
</html>
